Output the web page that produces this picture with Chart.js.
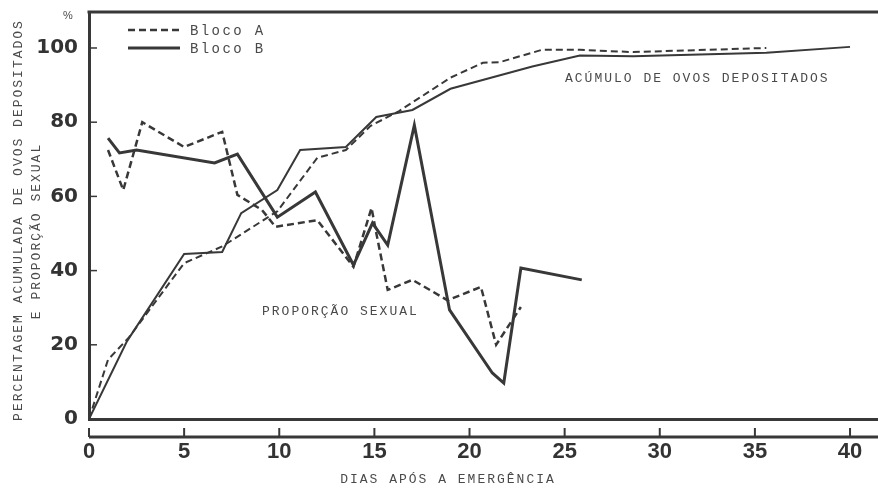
<!DOCTYPE html>
<html><head><meta charset="utf-8">
<script src="https://cdn.jsdelivr.net/npm/chart.js@4.4.0/dist/chart.umd.min.js"></script>
<style>html,body{margin:0;padding:0;background:#fff;}#wrap{width:878px;height:488px;}</style>
</head><body><div id="wrap"><canvas id="c" width="878" height="488"></canvas></div>
<script>
// ---- data ----
const xTickValues = [0, 5, 10, 15, 20, 25, 30, 35, 40];
const yTickValues = [0, 20, 40, 60, 80, 100];

// Acúmulo de ovos depositados (%)
const accumDaysA = [0, 1, 2.1, 5, 7, 9.9, 12, 13.5, 14.8, 16.3, 17.5, 19, 20.7, 21.6, 23.8, 25.8, 28.6, 35.6];
const accumA     = [0, 16, 22, 42, 46.5, 56, 70.4, 72.5, 79, 83, 87, 92, 96, 96.2, 99.5, 99.5, 98.9, 100];
const accumDaysB = [0, 2, 5, 7, 8, 9.9, 11.1, 13.5, 15.1, 17, 19, 23.3, 25.8, 28.6, 35.6, 40];
const accumB     = [0, 21, 44.5, 45, 55.5, 61.7, 72.5, 73.3, 81.4, 83.3, 89, 95, 98, 97.8, 98.7, 100.3];

// Proporção sexual (%)
const sexDaysA = [1, 1.8, 2.8, 5, 7, 7.8, 9.1, 9.8, 12, 13.9, 14.85, 15.1, 15.7, 17, 18.85, 20.6, 21.4, 22.7];
const sexA     = [72.5, 61.7, 80, 73.3, 77.4, 60.4, 56.3, 51.8, 53.6, 41, 56.9, 50.1, 34.8, 37.5, 32, 35.6, 20, 30.2];
const sexDaysB = [1, 1.6, 2.5, 6.6, 7.8, 9.9, 11.9, 13.9, 14.9, 15.7, 17.1, 18.95, 21.2, 21.8, 22.7, 25.9];
const sexB     = [75.7, 71.7, 72.5, 69, 71.4, 54.4, 61.2, 41.5, 52.8, 46.9, 79.2, 29.4, 12.4, 9.7, 40.7, 37.5];

const legendLabels = ['Bloco A', 'Bloco B'];
const xTitle = 'DIAS APÓS A EMERGÊNCIA';
const yTitle1 = 'PERCENTAGEM ACUMULADA DE OVOS DEPOSITADOS';
const yTitle2 = 'E PROPORÇÃO SEXUAL';
const noteAccum = 'ACÚMULO DE OVOS DEPOSITADOS';
const noteSex = 'PROPORÇÃO SEXUAL';

// ---- styling ----
const INK = '#383838';
const TEXT = '#4a4a4a';
const MONO = '"Liberation Mono", "DejaVu Sans Mono", monospace';
const pts = (xs, ys) => xs.map((x, i) => ({x, y: ys[i]}));

function monoText(ctx, str, x, y, size, spacing, align) {
  ctx.save();
  ctx.font = size + 'px ' + MONO;
  ctx.letterSpacing = spacing + 'px';
  ctx.fillStyle = TEXT;
  ctx.textBaseline = 'middle';
  let w = ctx.measureText(str).width - spacing;
  let sx = align === 'center' ? x - w / 2 : x;
  ctx.textAlign = 'left';
  ctx.fillText(str, sx, y);
  ctx.restore();
}

const decor = {
  id: 'decor',
  afterDraw(chart) {
    const ctx = chart.ctx, ca = chart.chartArea;
    const xs = chart.scales.x, ys = chart.scales.y;
    ctx.save();
    ctx.strokeStyle = INK;
    ctx.lineCap = 'butt';
    // top frame
    ctx.lineWidth = 3;
    ctx.beginPath(); ctx.moveTo(ca.left - 1.5, ca.top); ctx.lineTo(878, ca.top); ctx.stroke();
    // inner y ticks
    ctx.lineWidth = 1.5;
    yTickValues.forEach(v => {
      if (v === 0) return;
      const y = ys.getPixelForValue(v);
      ctx.beginPath(); ctx.moveTo(ca.left, y); ctx.lineTo(ca.left + 8, y); ctx.stroke();
    });
    // lower tick bar
    const by = ca.bottom + 18;
    ctx.lineWidth = 3;
    ctx.beginPath(); ctx.moveTo(ca.left, by); ctx.lineTo(878, by); ctx.stroke();
    ctx.lineWidth = 2;
    xTickValues.forEach(v => {
      const x = xs.getPixelForValue(v);
      ctx.beginPath(); ctx.moveTo(x, by); ctx.lineTo(x, by - 9); ctx.stroke();
    });
    // legend
    ctx.lineWidth = 2.5;
    ctx.setLineDash([7, 4]);
    ctx.beginPath(); ctx.moveTo(128, 30); ctx.lineTo(180, 30); ctx.stroke();
    ctx.setLineDash([]);
    ctx.lineWidth = 3;
    ctx.beginPath(); ctx.moveTo(128, 48); ctx.lineTo(180, 48); ctx.stroke();
    ctx.restore();

    monoText(ctx, legendLabels[0], 190, 31, 14, 2.4, 'left');
    monoText(ctx, legendLabels[1], 190, 49, 14, 2.4, 'left');
    monoText(ctx, noteAccum, 565, 79, 13, 2, 'left');
    monoText(ctx, noteSex, 262, 312, 13, 2, 'left');
    monoText(ctx, xTitle, 447, 480, 13, 2, 'center');

    // y titles (rotated)
    ctx.save();
    ctx.translate(19, 221); ctx.rotate(-Math.PI / 2);
    monoText(ctx, yTitle1, 0, 0, 13, 2, 'center');
    ctx.restore();
    ctx.save();
    ctx.translate(37, 232); ctx.rotate(-Math.PI / 2);
    monoText(ctx, yTitle2, 0, 0, 13, 2, 'center');
    ctx.restore();

    // percent sign
    ctx.save();
    ctx.font = '11px "Liberation Sans", sans-serif';
    ctx.fillStyle = TEXT; ctx.textAlign = 'center'; ctx.textBaseline = 'middle';
    ctx.fillText('%', 68, 16);
    ctx.restore();
  }
};

new Chart(document.getElementById('c'), {
  type: 'line',
  data: {
    datasets: [
      {label: 'Acúmulo Bloco A', data: pts(accumDaysA, accumA), borderColor: INK, borderWidth: 2, borderDash: [7, 4]},
      {label: 'Acúmulo Bloco B', data: pts(accumDaysB, accumB), borderColor: INK, borderWidth: 2},
      {label: 'Proporção Bloco A', data: pts(sexDaysA, sexA), borderColor: INK, borderWidth: 2.5, borderDash: [7, 4]},
      {label: 'Proporção Bloco B', data: pts(sexDaysB, sexB), borderColor: INK, borderWidth: 3}
    ]
  },
  options: {
    responsive: false,
    animation: false,
    devicePixelRatio: 1,
    layout: {padding: {top: 12, right: 0, left: 0, bottom: 0}},
    elements: {point: {radius: 0}, line: {tension: 0, borderJoinStyle: 'miter', borderCapStyle: 'butt'}},
    plugins: {legend: {display: false}, tooltip: {enabled: false}},
    scales: {
      x: {
        type: 'linear', min: 0, max: 41.47,
        afterBuildTicks: s => { s.ticks = xTickValues.map(v => ({value: v})); },
        afterFit: s => { s.height = 69; s.paddingLeft = 0; s.paddingRight = 0; },
        grid: {display: false, drawTicks: false},
        border: {display: true, width: 3, color: INK},
        ticks: {padding: 20, color: '#333', font: {family: '"Liberation Sans", Arial, sans-serif', size: 22, weight: 'bold'}, maxRotation: 0}
      },
      y: {
        type: 'linear', min: 0, max: 109.7,
        afterBuildTicks: s => { s.ticks = yTickValues.map(v => ({value: v})); },
        afterFit: s => { s.width = 89; s.paddingTop = 0; s.paddingBottom = 0; },
        grid: {display: false, drawTicks: false},
        border: {display: true, width: 3, color: INK},
        ticks: {padding: 11, color: '#333', font: {family: '"DejaVu Sans", sans-serif', size: 20, weight: 'bold'}}
      }
    }
  },
  plugins: [decor]
});
</script></body></html>
